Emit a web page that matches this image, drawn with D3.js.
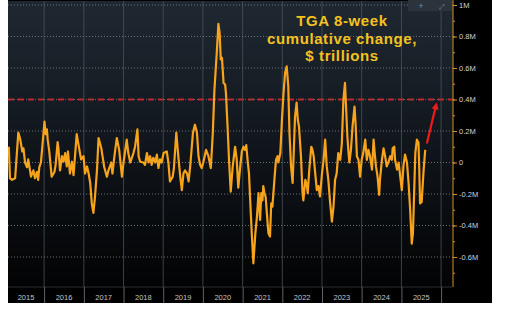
<!DOCTYPE html>
<html>
<head>
<meta charset="utf-8">
<script src="https://cdn.jsdelivr.net/npm/d3@7"></script>
<style>
  body { margin: 0; background: #fff; }
  svg { display: block; font-family: "Liberation Sans", Arial, sans-serif; }
</style>
</head>
<body>
<div id="container"></div>
<script>
/* CONSTANTS AND GLOBALS */
const width = 508, height = 312;
const plot = { left: 8, right: 453, top: 1, bottom: 287 };
const panel = { right: 492, bottom: 303 };

/* DATA */
const years = [2015, 2016, 2017, 2018, 2019, 2020, 2021, 2022, 2023, 2024, 2025];
const yTicks = [-0.6, -0.4, -0.2, 0, 0.2, 0.4, 0.6, 0.8, 1];
const yTickLabels = ["-0.6M", "-0.4M", "-0.2M", "0", "0.2M", "0.4M", "0.6M", "0.8M", "1M"];
const threshold = 0.4;
const titleLines = ["TGA 8-week", "cumulative change,", "$ trillions"];
const arrowFrom = [2025.64, 0.12], arrowTo = [2025.87, 0.36];

// [decimal year, change in $ trillions]
const tga = [
  [2015.11,0.10],[2015.14,-0.10],[2015.19,-0.11],[2015.27,-0.10],[2015.35,0.19],[2015.40,0.145],[2015.45,0.07],[2015.48,0.09],[2015.52,0.00],[2015.57,-0.03],
  [2015.60,0.02],[2015.67,-0.09],[2015.73,-0.05],[2015.77,-0.10],[2015.82,-0.06],[2015.85,-0.11],[2015.88,-0.03],[2015.92,0.00],[2016.01,0.26],[2016.04,0.18],
  [2016.07,0.21],[2016.09,0.145],[2016.13,0.07],[2016.19,-0.09],[2016.26,-0.06],[2016.29,-0.015],[2016.34,0.13],[2016.36,0.09],[2016.40,-0.05],[2016.45,0.04],
  [2016.49,0.005],[2016.53,0.06],[2016.57,-0.025],[2016.60,0.07],[2016.65,-0.07],[2016.70,0.005],[2016.74,-0.08],[2016.82,0.18],[2016.86,0.12],[2016.93,0.02],
  [2016.99,0.04],[2017.03,-0.07],[2017.08,-0.025],[2017.12,-0.07],[2017.16,-0.13],[2017.20,-0.26],[2017.24,-0.32],[2017.28,-0.22],[2017.33,-0.05],[2017.37,0.155],
  [2017.44,0.09],[2017.47,0.04],[2017.51,-0.025],[2017.58,-0.09],[2017.62,-0.05],[2017.69,0.00],[2017.72,-0.07],[2017.77,0.04],[2017.83,0.155],[2017.89,0.08],
  [2017.96,-0.09],
  [2018.00,0.00],[2018.08,0.145],[2018.12,0.06],[2018.17,0.00],[2018.25,0.06],[2018.29,0.10],[2018.35,0.21],[2018.38,0.04],[2018.42,0.005],[2018.50,0.00],
  [2018.54,-0.015],[2018.59,0.06],[2018.63,0.00],[2018.67,0.04],[2018.71,-0.015],[2018.75,0.03],[2018.80,0.00],[2018.84,0.05],[2018.88,-0.035],[2018.92,0.02],
  [2018.96,0.00],[2019.01,0.06],[2019.09,0.07],[2019.13,0.00],[2019.17,-0.12],[2019.24,-0.09],[2019.27,-0.035],[2019.33,0.19],[2019.38,0.04],[2019.43,-0.09],
  [2019.47,-0.175],[2019.51,-0.07],[2019.55,-0.05],[2019.60,-0.07],[2019.64,-0.12],[2019.68,-0.025],[2019.75,0.19],[2019.80,0.24],[2019.85,0.19],[2019.89,0.04],
  [2019.93,-0.015],[2019.97,-0.035],[2020.01,0.00],[2020.08,0.08],[2020.14,0.04],[2020.20,-0.035],[2020.25,0.19],[2020.29,0.46],[2020.35,0.70],[2020.39,0.88],
  [2020.42,0.825],[2020.45,0.655],[2020.48,0.665],[2020.52,0.505],[2020.56,0.495],[2020.58,0.44],[2020.62,0.23],[2020.66,0.005],[2020.70,-0.185],[2020.75,-0.025],
  [2020.81,0.10],[2020.85,0.02],[2020.89,-0.16],
  [2020.94,-0.025],[2020.98,0.07],[2021.02,0.10],[2021.06,0.08],[2021.09,0.11],[2021.13,0.00],[2021.16,-0.07],[2021.19,-0.24],[2021.23,-0.45],[2021.27,-0.64],
  [2021.32,-0.45],[2021.36,-0.345],[2021.40,-0.195],[2021.44,-0.365],[2021.47,-0.195],[2021.50,-0.24],[2021.52,-0.15],[2021.55,-0.195],[2021.58,-0.22],[2021.61,-0.32],
  [2021.65,-0.45],[2021.69,-0.47],[2021.72,-0.26],[2021.75,-0.28],[2021.80,-0.11],[2021.84,0.017],[2021.88,0.04],[2021.90,0.00],[2021.95,0.06],[2021.99,0.27],
  [2022.03,0.44],[2022.07,0.57],[2022.11,0.61],[2022.15,0.485],[2022.18,0.19],[2022.22,-0.025],[2022.26,-0.13],[2022.29,0.08],[2022.32,0.29],[2022.36,0.38],
  [2022.39,0.27],[2022.42,0.23],[2022.47,0.04],[2022.51,-0.195],[2022.53,-0.24],[2022.58,-0.11],[2022.62,-0.15],[2022.64,-0.195],[2022.68,-0.045],[2022.73,0.10],
  [2022.76,0.08],[2022.79,0.04],[2022.83,-0.07],[2022.87,-0.175],[2022.91,-0.15],[2022.95,-0.215],[2023.00,-0.07],[2023.04,0.017],[2023.08,0.145],[2023.12,-0.025],
  [2023.16,-0.11],[2023.20,-0.24],[2023.25,-0.375],[2023.29,-0.28],[2023.33,-0.11],[2023.37,-0.07],[2023.41,0.06],[2023.46,0.017],[2023.50,0.12],[2023.54,0.40],
  [2023.58,0.505],[2023.61,0.335],[2023.64,0.165],[2023.67,0.06],[2023.69,0.00],[2023.73,0.08],[2023.77,0.23],[2023.82,0.355],[2023.85,0.23],[2023.88,0.04],
  [2023.92,0.017],[2023.96,-0.09],[2024.00,0.017],[2024.04,0.06],[2024.09,0.145],[2024.13,0.017],[2024.17,0.08],[2024.21,0.04],[2024.26,-0.045],[2024.30,0.145],
  [2024.32,0.08],[2024.36,-0.025],[2024.40,-0.09],[2024.44,-0.205],[2024.46,-0.11],[2024.51,0.017],[2024.55,0.09],[2024.59,0.04],[2024.63,-0.025],[2024.67,0.00],
  [2024.72,0.04],[2024.76,0.017],[2024.78,0.09],[2024.82,0.10],[2024.84,0.017],[2024.89,-0.045],[2024.93,0.00],[2024.97,-0.09],[2025.01,-0.175],[2025.05,-0.025],
  [2025.09,0.05],[2025.14,0.00],[2025.18,-0.13],[2025.22,-0.30],[2025.26,-0.515],[2025.29,-0.45],[2025.32,-0.195],[2025.35,0.06],[2025.39,0.145],[2025.43,0.125],
  [2025.45,-0.045],[2025.47,-0.26],[2025.51,-0.25],[2025.56,-0.045],[2025.60,0.08]
];

// decimal year -> Date
const toDate = t => {
  const y = Math.floor(t);
  const a = new Date(y, 0, 1), b = new Date(y + 1, 0, 1);
  return new Date(+a + (t - y) * (b - a));
};

/* SCALES */
const xScale = d3.scaleTime()
  .domain([toDate(2015.09), toDate(2026.30)])
  .range([plot.left, plot.right]);

const yScale = d3.scaleLinear()
  .domain([-0.6, 1])
  .range([257, 5]);

/* SVG */
const svg = d3.select("#container")
  .append("svg")
  .attr("width", width)
  .attr("height", height);

const defs = svg.append("defs");
const grad = defs.append("linearGradient")
  .attr("id", "bg").attr("x1", 0).attr("y1", 0).attr("x2", 0).attr("y2", 1);
grad.append("stop").attr("offset", "0%").attr("stop-color", "#1f2832");
grad.append("stop").attr("offset", "50%").attr("stop-color", "#11161c");
grad.append("stop").attr("offset", "100%").attr("stop-color", "#020304");

defs.append("clipPath").attr("id", "clip")
  .append("rect")
  .attr("x", plot.left).attr("y", plot.top)
  .attr("width", plot.right - plot.left).attr("height", plot.bottom - plot.top);

defs.append("marker")
  .attr("id", "head")
  .attr("viewBox", "0 0 10 10")
  .attr("refX", 5).attr("refY", 5)
  .attr("markerWidth", 3.2).attr("markerHeight", 3.2)
  .attr("orient", "auto")
  .append("path")
  .attr("d", "M0,0 L10,5 L0,10 Z")
  .attr("fill", "#ee1a1c");

// black panel + gradient plot area
svg.append("rect")
  .attr("x", plot.left).attr("y", 0)
  .attr("width", panel.right - plot.left).attr("height", panel.bottom)
  .attr("fill", "#000");

svg.append("rect")
  .attr("x", plot.left).attr("y", plot.top)
  .attr("width", plot.right - plot.left).attr("height", plot.bottom - plot.top)
  .attr("fill", "url(#bg)");

/* GRIDLINES */
const yearStarts = years.slice(1).concat([2026]).map(y => new Date(y, 0, 1));

svg.append("g")
  .selectAll("line")
  .data(yearStarts)
  .join("line")
  .attr("x1", d => xScale(d)).attr("x2", d => xScale(d))
  .attr("y1", plot.top).attr("y2", plot.bottom)
  .attr("stroke", "#4a525b")
  .attr("stroke-width", 0.8);

svg.append("g")
  .selectAll("line")
  .data(yTicks)
  .join("line")
  .attr("x1", plot.left).attr("x2", plot.right)
  .attr("y1", d => yScale(d)).attr("y2", d => yScale(d))
  .attr("stroke", "#737b84")
  .attr("stroke-width", 0.9)
  .attr("stroke-dasharray", "1,2");

// threshold line
svg.append("line")
  .attr("x1", plot.left).attr("x2", plot.right)
  .attr("y1", yScale(threshold)).attr("y2", yScale(threshold))
  .attr("stroke", "#b82a2f")
  .attr("stroke-width", 1.8)
  .attr("stroke-dasharray", "6,4");

/* LINE */
const lineGen = d3.line()
  .x(d => xScale(toDate(d[0])))
  .y(d => yScale(d[1]));

svg.append("path")
  .datum(tga)
  .attr("clip-path", "url(#clip)")
  .attr("fill", "none")
  .attr("stroke", "#f7a31c")
  .attr("stroke-width", 2.2)
  .attr("stroke-linejoin", "round")
  .attr("d", lineGen);

// red arrow
svg.append("line")
  .attr("x1", xScale(toDate(arrowFrom[0]))).attr("y1", yScale(arrowFrom[1]))
  .attr("x2", xScale(toDate(arrowTo[0]))).attr("y2", yScale(arrowTo[1]))
  .attr("stroke", "#ee1a1c")
  .attr("stroke-width", 2.2)
  .attr("marker-end", "url(#head)");

/* TITLE */
svg.append("g")
  .selectAll("text")
  .data(titleLines)
  .join("text")
  .attr("x", 342)
  .attr("y", (d, i) => 26 + i * 17.5)
  .attr("text-anchor", "middle")
  .attr("font-weight", "bold")
  .attr("font-size", 15)
  .attr("letter-spacing", 0.6)
  .attr("fill", "#f4c21f")
  .text(d => d);

/* TOOLBAR */
svg.append("rect")
  .attr("x", 408).attr("y", 0).attr("width", 44).attr("height", 11)
  .attr("fill", "#2b333c");
svg.append("text").attr("x", 421).attr("y", 8.5)
  .attr("text-anchor", "middle").attr("font-size", 9).attr("fill", "#7e868f").text("+");
svg.append("text").attr("x", 442).attr("y", 8.5)
  .attr("text-anchor", "middle").attr("font-size", 7).attr("fill", "#7e868f").text("⤢");

/* RIGHT AXIS */
svg.append("line")
  .attr("x1", plot.right).attr("x2", plot.right)
  .attr("y1", 0).attr("y2", plot.bottom)
  .attr("stroke", "#d8901e").attr("stroke-width", 1);

const minorAxis = d3.axisRight(yScale)
  .tickValues(d3.range(-0.7, 1.05, 0.1))
  .tickSize(2)
  .tickFormat("");

svg.append("g")
  .attr("transform", `translate(${plot.right},0)`)
  .call(minorAxis)
  .call(g => g.select(".domain").remove())
  .call(g => g.selectAll("line").attr("stroke", "#d8901e"));

const yAxis = d3.axisRight(yScale)
  .tickValues(yTicks)
  .tickSize(4)
  .tickPadding(2)
  .tickFormat((d, i) => yTickLabels[i]);

svg.append("g")
  .attr("transform", `translate(${plot.right},0)`)
  .call(yAxis)
  .call(g => g.select(".domain").remove())
  .call(g => g.selectAll("line").attr("stroke", "#d8901e"))
  .call(g => g.selectAll("text")
    .attr("fill", "#d4d4d4")
    .attr("font-size", 7.5)
    .attr("font-family", "\"Liberation Sans\", Arial, sans-serif"));

/* BOTTOM AXIS */
svg.append("line")
  .attr("x1", plot.left).attr("x2", plot.right)
  .attr("y1", plot.bottom).attr("y2", plot.bottom)
  .attr("stroke", "#2a2f35");

const xAxis = d3.axisBottom(xScale)
  .tickValues(yearStarts)
  .tickSize(panel.bottom - plot.bottom)
  .tickFormat("");

svg.append("g")
  .attr("transform", `translate(0,${plot.bottom})`)
  .call(xAxis)
  .call(g => g.select(".domain").remove())
  .call(g => g.selectAll("line").attr("stroke", "#5c636b"));

svg.append("g")
  .selectAll("text")
  .data(years)
  .join("text")
  .attr("x", d => {
    const a = Math.max(xScale(new Date(d, 0, 1)), plot.left);
    const b = xScale(new Date(d + 1, 0, 1));
    return (a + b) / 2;
  })
  .attr("y", 300)
  .attr("text-anchor", "middle")
  .attr("font-size", 7.5)
  .attr("fill", "#c4c4c4")
  .text(d => d);
</script>
</body>
</html>
